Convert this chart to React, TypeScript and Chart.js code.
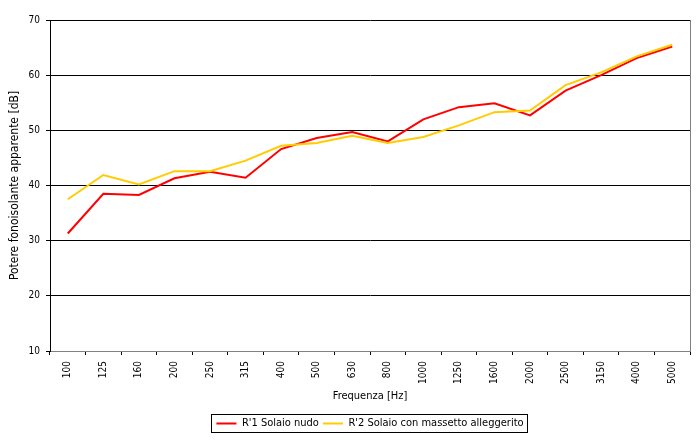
import React, { useEffect, useRef } from "react";
import { Chart, registerables } from "chart.js";

Chart.register(...registerables);

const categories = ["100", "125", "160", "200", "250", "315", "400", "500", "630", "800", "1000", "1250", "1600", "2000", "2500", "3150", "4000", "5000"];
const solaioNudo = [31.3, 38.5, 38.3, 41.3, 42.5, 41.4, 46.6, 48.6, 49.7, 48.0, 52.0, 54.2, 54.9, 52.7, 57.2, 60.0, 63.1, 65.2];
const solaioMassetto = [37.5, 41.9, 40.2, 42.6, 42.6, 44.5, 47.2, 47.7, 49.0, 47.7, 48.8, 50.9, 53.3, 53.6, 58.2, 60.5, 63.4, 65.5];
const seriesNames = ["R'1 Solaio nudo", "R'2 Solaio con massetto alleggerito"];
const xTitle = "Frequenza [Hz]";
const yTitle = "Potere fonoisolante apparente [dB]";

const FONT = "'DejaVu Sans Condensed', 'DejaVu Sans', sans-serif";

const framePlugin = {
  id: "frame",
  beforeDatasetsDraw(chart: any) {
    const { ctx, chartArea } = chart;
    ctx.save();
    ctx.strokeStyle = "#808080";
    ctx.lineWidth = 1;
    ctx.beginPath();
    ctx.moveTo(Math.round(chartArea.right) + 0.5, chartArea.top);
    ctx.lineTo(Math.round(chartArea.right) + 0.5, chartArea.bottom);
    ctx.stroke();
    ctx.restore();
  },
  afterDraw(chart: any) {
    const legend = chart.legend;
    if (!legend || !legend.legendHitBoxes || !legend.legendHitBoxes.length) return;
    const boxes = legend.legendHitBoxes;
    let l = Infinity, r = -Infinity, t = Infinity, b = -Infinity;
    for (const hb of boxes) {
      l = Math.min(l, hb.left);
      r = Math.max(r, hb.left + hb.width);
      t = Math.min(t, hb.top);
      b = Math.max(b, hb.top + hb.height);
    }
    const { ctx } = chart;
    ctx.save();
    ctx.strokeStyle = "#000";
    ctx.lineWidth = 1;
    const x0 = Math.round(l - 5) + 0.5;
    const y0 = Math.round(t - 4) + 0.5;
    ctx.strokeRect(x0, y0, Math.round(r + 3) - Math.round(l - 5), Math.round(b + 3) - Math.round(t - 4));
    ctx.restore();
  },
};

export default function App() {
  const ref = useRef<HTMLCanvasElement | null>(null);

  useEffect(() => {
    document.body.style.margin = "0";
    const canvas = ref.current;
    if (!canvas) return;
    Chart.defaults.font.family = FONT;
    Chart.defaults.color = "#000";
    const chart = new Chart(canvas, {
      type: "line",
      data: {
        labels: categories,
        datasets: [
          {
            label: seriesNames[0],
            data: solaioNudo,
            borderColor: "#ff0000",
            backgroundColor: "#ff0000",
            borderWidth: 2,
            pointRadius: 0,
            tension: 0,
            order: 1,
          },
          {
            label: seriesNames[1],
            data: solaioMassetto,
            borderColor: "#ffcc00",
            backgroundColor: "#ffcc00",
            borderWidth: 2,
            pointRadius: 0,
            tension: 0,
            order: 0,
          },
        ],
      },
      options: {
        responsive: false,
        animation: false,
        layout: { padding: { top: 20, right: 10, bottom: 7, left: 0 } },
        plugins: {
          legend: {
            position: "bottom",
            fullSize: false,
            labels: {
              usePointStyle: true,
              pointStyle: "line",
              pointStyleWidth: 20,
              boxWidth: 20,
              boxHeight: 11,
              padding: 4,
              color: "#000",
              font: { size: 11, family: FONT },
              sort: (a: any, b: any) => a.datasetIndex - b.datasetIndex,
            },
          },
          tooltip: { enabled: false },
        },
        scales: {
          x: {
            type: "category",
            offset: true,
            afterFit: (s: any) => {
              s.height = 63;
            },
            grid: {
              display: true,
              drawOnChartArea: false,
              drawTicks: true,
              tickLength: 4,
              offset: true,
              color: "#000",
            },
            border: { display: true, color: "#808080" },
            ticks: {
              autoSkip: false,
              maxRotation: 90,
              minRotation: 90,
              padding: 6,
              color: "#000",
              font: { size: 10, family: FONT },
            },
            title: {
              display: true,
              text: xTitle,
              color: "#000",
              font: { size: 11, family: FONT },
              padding: { top: 0, bottom: 11 },
            },
          },
          y: {
            min: 10,
            max: 70,
            afterFit: (s: any) => {
              s.width = 50;
            },
            grid: {
              color: "#000",
              tickLength: 4,
              drawTicks: true,
            },
            border: { display: true, color: "#000" },
            ticks: {
              stepSize: 10,
              padding: 6,
              color: "#000",
              font: { size: 10, family: FONT },
            },
            title: {
              display: true,
              text: yTitle,
              color: "#000",
              font: { size: 12, family: FONT },
              padding: { top: 8, bottom: 0 },
            },
          },
        },
      },
      plugins: [framePlugin],
    });
    return () => chart.destroy();
  }, []);

  return (
    <div style={{ width: 700, height: 446, background: "#fff" }}>
      <canvas ref={ref} width={700} height={446} />
    </div>
  );
}
